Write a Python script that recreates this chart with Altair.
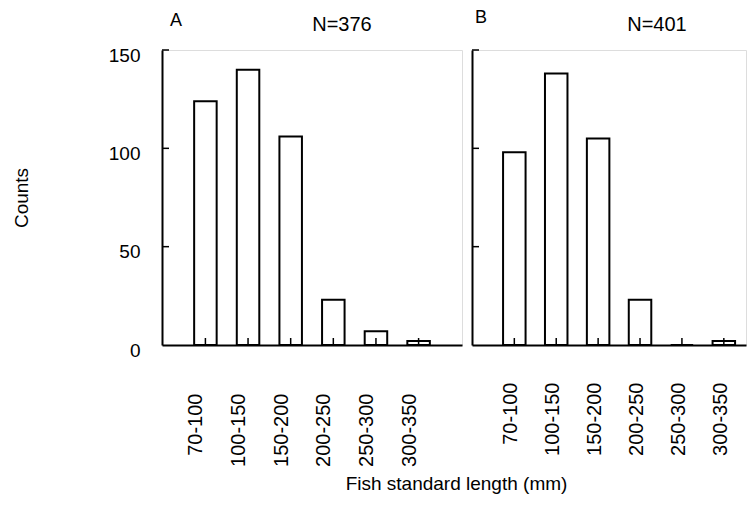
import altair as alt
import pandas as pd

categories = ["70-100", "100-150", "150-200", "200-250", "250-300", "300-350"]
counts_a = [124, 140, 106, 23, 7, 2]
counts_b = [98, 138, 105, 23, 0, 2]
panel_letters = ["A", "B"]
panel_n = ["N=376", "N=401"]
y_ticks = [0, 50, 100, 150]
y_title = "Counts"
x_title = "Fish standard length (mm)"

FONT = "Liberation Sans"
H = 295


def panel(counts, letter, ntext, width, xscale, first, label_pad, label_off, n_x):
    df = pd.DataFrame({"cat": categories, "count": counts})
    common = dict(labelAngle=-90, labelPadding=label_pad, labelOffset=label_off,
                  labelFontSize=20, labelColor="black", ticks=False,
                  domainColor="black", domainWidth=2)
    if first:
        xaxis = alt.Axis(**common, title=x_title, titleX=294, titleY=138,
                         titleAlign="center", titleBaseline="middle",
                         titleFontSize=19, titleFontWeight="normal",
                         titleColor="black", titleAngle=0)
    else:
        xaxis = alt.Axis(**common, title=None)
    xenc = alt.X("cat:N", sort=categories, scale=xscale, axis=xaxis)
    yscale = alt.Scale(domain=[0, 150], nice=False)
    if first:
        yaxis = alt.Axis(values=y_ticks, labelFontSize=19, labelColor="black",
                         labelPadding=22, labelOffset=5, ticks=False, grid=False,
                         domainColor="black", domainWidth=2,
                         title=y_title, titleFontSize=19, titleFontWeight="normal",
                         titleColor="black", titlePadding=77)
    else:
        yaxis = alt.Axis(values=y_ticks, labels=False, ticks=False, grid=False,
                         domainColor="black", domainWidth=2, title=None)

    bars = alt.Chart(df).mark_bar(fill="white", stroke="black", strokeWidth=2).encode(
        x=xenc,
        y=alt.Y("count:Q", scale=yscale, axis=yaxis),
    )
    xt = alt.Chart(df).mark_rule(color="black", strokeWidth=1.5).encode(
        x=alt.X("cat:N", sort=categories),
        y=alt.value(H), y2=alt.value(H - 7),
    )
    ydf = pd.DataFrame({"v": y_ticks[1:]})
    yt = alt.Chart(ydf).mark_rule(color="black", strokeWidth=1.5).encode(
        y=alt.Y("v:Q", scale=yscale),
        x=alt.value(0), x2=alt.value(7),
    )
    tdf = pd.DataFrame({"letter": [letter], "n": [ntext]})
    t1 = alt.Chart(tdf).mark_text(align="left", baseline="alphabetic", fontSize=18,
                                  font=FONT, color="black").encode(
        text="letter:N", x=alt.value(8 if first else 3), y=alt.value(-24 if first else -27))
    t2 = alt.Chart(tdf).mark_text(align="center", baseline="alphabetic", fontSize=20,
                                  font=FONT, color="black").encode(
        text="n:N", x=alt.value(n_x), y=alt.value(-19))
    return alt.layer(bars, xt, yt, t1, t2).properties(width=width, height=H)


scale_a = alt.Scale(paddingInner=0.472, paddingOuter=0.754)
scale_b = alt.Scale(paddingInner=0.463, paddingOuter=0.501, align=0.74)

pa = panel(counts_a, panel_letters[0], panel_n[0], 300, scale_a, True, 48, -9, 180)
pb = panel(counts_b, panel_letters[1], panel_n[1], 274, scale_b, False, 37, -3, 185)

chart = alt.hconcat(pa, pb, spacing=10, bounds="flush").resolve_scale(
    x="independent", y="independent"
).properties(
    padding={"left": 3, "top": 0, "right": 0, "bottom": 0}
).configure_view(stroke=None).configure(font=FONT)

chart.save("out.html", embed_options={"renderer": "svg", "actions": False})
